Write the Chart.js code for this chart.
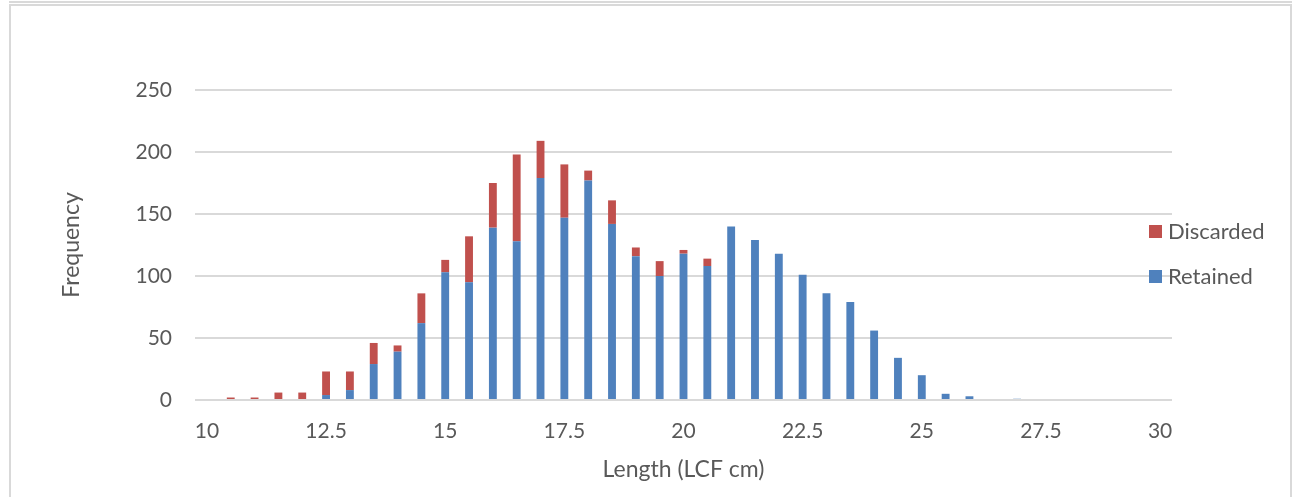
<!DOCTYPE html>
<html>
<head>
<meta charset="utf-8">
<script src="https://cdn.jsdelivr.net/npm/chart.js@4.4.0/dist/chart.umd.min.js"></script>
<style>
  html, body { margin: 0; padding: 0; background: #fff; }
  body { width: 1292px; height: 497px; position: relative; overflow: hidden;
         font-family: Lato, 'Open Sans', sans-serif; color: #595959; }
  .topline { position: absolute; left: 9px; right: 0; top: 1px; height: 2px; background: #d9d9d9; }
  .frame { position: absolute; left: 9px; top: 4px; width: 1279px; height: 500px;
           border: 2px solid #d9d9d9; border-bottom: none; }
  #wrap { position: absolute; left: 0; top: 0; width: 1292px; height: 497px; }
  .legend { position: absolute; left: 1149px; top: 217px; font-size: 22px; }
  .legend div { height: 45px; line-height: 28px; white-space: nowrap; }
  .legend span { display: inline-block; width: 13px; height: 13px; margin-right: 6px; vertical-align: 1px; }
</style>
</head>
<body>
<div class="topline"></div>
<div class="frame"></div>
<div id="wrap"><canvas id="chart"></canvas></div>
<div class="legend" id="legend"></div>
<script>
  /* ── Data ── */
  var lengths = ['10', '10.5', '11', '11.5', '12', '12.5', '13', '13.5', '14', '14.5',
                 '15', '15.5', '16', '16.5', '17', '17.5', '18', '18.5', '19', '19.5',
                 '20', '20.5', '21', '21.5', '22', '22.5', '23', '23.5', '24', '24.5',
                 '25', '25.5', '26', '26.5', '27', '27.5', '28', '28.5', '29', '29.5', '30'];

  var retained = [0, 0, 0, 0, 0, 4, 8, 29, 39, 62,
                  103, 95, 139, 128, 179, 147, 177, 142, 116, 100,
                  118, 108, 140, 129, 118, 101, 86, 79, 56, 34,
                  20, 5, 3, 0, 1, 0, 0, 0, 0, 0, 0];

  var discarded = [0, 2, 2, 6, 6, 19, 15, 17, 5, 24,
                   10, 37, 36, 70, 30, 43, 8, 19, 7, 12,
                   3, 6, 0, 0, 0, 0, 0, 0, 0, 0,
                   0, 0, 0, 0, 0, 0, 0, 0, 0, 0, 0];

  var yTicks = [0, 50, 100, 150, 200, 250];

  var textColor = '#595959';
  var gridColor = '#d9d9d9';
  var fontFamily = "Lato, 'Open Sans', sans-serif";

  var chart = new Chart(document.getElementById('chart'), {
    type: 'bar',
    data: {
      labels: lengths,
      datasets: [
        { label: 'Retained', data: retained, backgroundColor: '#4f81bd' },
        { label: 'Discarded', data: discarded, backgroundColor: '#c0504d' }
      ]
    },
    options: {
      responsive: true,
      maintainAspectRatio: false,
      animation: false,
      categoryPercentage: 1,
      barPercentage: 0.33,
      layout: { padding: { left: 50, top: 90, right: 120, bottom: 14 } },
      plugins: {
        tooltip: { enabled: false },
        legend: { display: false }
      },
      scales: {
        x: {
          stacked: true,
          grid: { display: false, drawTicks: false },
          border: { display: false },
          ticks: {
            color: textColor,
            font: { family: fontFamily, size: 21 },
            autoSkip: false,
            maxRotation: 0,
            padding: 19,
            callback: function (value, index) {
              return index % 5 === 0 ? lengths[index] : '';
            }
          },
          title: {
            display: true,
            text: 'Length (LCF cm)',
            color: textColor,
            font: { family: fontFamily, size: 23 },
            padding: { top: 8, bottom: 0 }
          },
          afterFit: function (scale) { scale.height = 83; }
        },
        y: {
          stacked: true,
          min: 0,
          max: 250,
          afterBuildTicks: function (scale) {
            scale.ticks = yTicks.map(function (v) { return { value: v }; });
          },
          grid: { color: gridColor, lineWidth: 2, drawTicks: false },
          border: { display: false },
          ticks: {
            color: textColor,
            font: { family: fontFamily, size: 21 },
            padding: 23
          },
          title: {
            display: true,
            text: 'Frequency',
            color: textColor,
            font: { family: fontFamily, size: 23 },
            padding: { top: 8, bottom: 0 }
          },
          afterFit: function (scale) { scale.width = 145; }
        }
      }
    }
  });

  /* ── Legend, Excel order: last stacked series first ── */
  var legendEl = document.getElementById('legend');
  chart.data.datasets.slice().reverse().forEach(function (ds) {
    var row = document.createElement('div');
    var box = document.createElement('span');
    box.style.background = ds.backgroundColor;
    row.appendChild(box);
    row.appendChild(document.createTextNode(ds.label));
    legendEl.appendChild(row);
  });
</script>
</body>
</html>
